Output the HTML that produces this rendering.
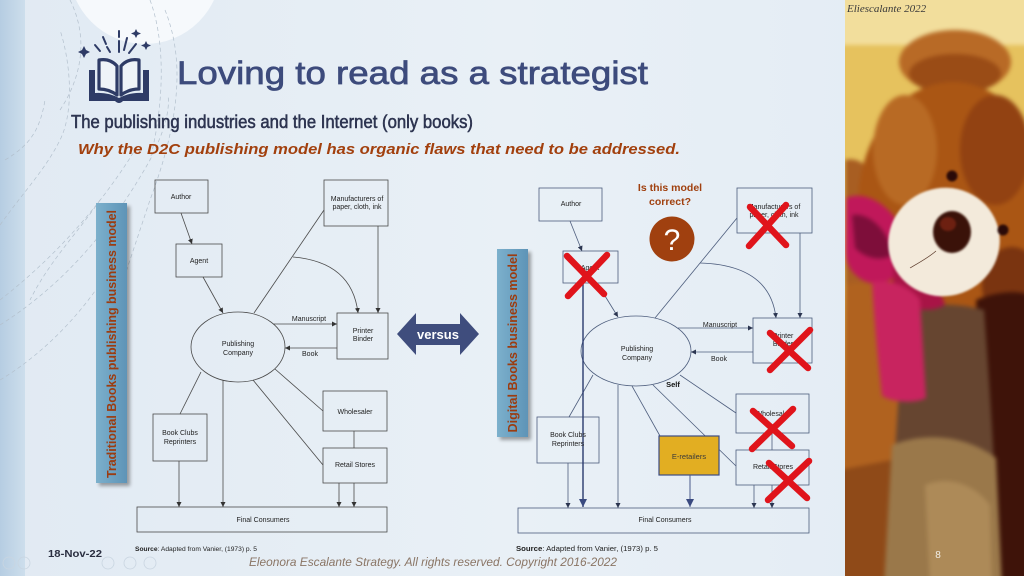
<!DOCTYPE html>
<html><head><meta charset="utf-8"><style>
html,body{margin:0;padding:0;width:1024px;height:576px;overflow:hidden;background:#e6eef5}
svg{display:block}
</style></head><body>
<svg width="1024" height="576" viewBox="0 0 1024 576" xmlns="http://www.w3.org/2000/svg" font-family="'Liberation Sans', Arial, sans-serif">
<defs>
 <linearGradient id="bg" x1="0" y1="0" x2="1" y2="0">
  <stop offset="0" stop-color="#e1eaf3"/><stop offset="0.5" stop-color="#e9f0f6"/><stop offset="1" stop-color="#e2ebf4"/>
 </linearGradient>
 <linearGradient id="strip" x1="0" y1="0" x2="1" y2="0">
  <stop offset="0" stop-color="#b6cde2"/><stop offset="1" stop-color="#cddeec"/>
 </linearGradient>
 <linearGradient id="lbl" x1="0" y1="0" x2="1" y2="0">
  <stop offset="0" stop-color="#7cb0cc"/><stop offset="1" stop-color="#5e94b7"/>
 </linearGradient>
 <marker id="ag" viewBox="0 0 10 10" refX="10" refY="5" markerWidth="5" markerHeight="5" markerUnits="userSpaceOnUse" orient="auto"><path d="M0,0 L10,5 L0,10 z" fill="#333"/></marker>
 <marker id="ab" viewBox="0 0 10 10" refX="10" refY="5" markerWidth="5" markerHeight="5" markerUnits="userSpaceOnUse" orient="auto"><path d="M0,0 L10,5 L0,10 z" fill="#2b3550"/></marker>
 <marker id="an" viewBox="0 0 10 10" refX="10" refY="5" markerWidth="8" markerHeight="8" markerUnits="userSpaceOnUse" orient="auto"><path d="M0,0 L10,5 L0,10 z" fill="#3a4a80"/></marker>
 <filter id="b3" x="-20%" y="-20%" width="140%" height="140%" color-interpolation-filters="sRGB"><feGaussianBlur stdDeviation="2"/></filter>
 <filter id="b1" x="-20%" y="-20%" width="140%" height="140%" color-interpolation-filters="sRGB"><feGaussianBlur stdDeviation="1"/></filter>
 <filter id="sh" x="-30%" y="-10%" width="160%" height="120%"><feGaussianBlur stdDeviation="1.8"/></filter>
 <clipPath id="cp"><rect x="845" y="0" width="179" height="576"/></clipPath>
</defs>

<!-- background -->
<rect x="0" y="0" width="1024" height="576" fill="url(#bg)"/>
<rect x="0" y="0" width="25" height="576" fill="url(#strip)"/>
<circle cx="145" cy="-32" r="76" fill="#f6f9fc"/>

<!-- dashed decorative curves -->
<g fill="none" stroke="#b3c0cd" stroke-width="0.7" stroke-dasharray="4 3">
 <path d="M0,300 C45,265 95,215 135,150"/>
 <path d="M0,325 C55,290 105,240 150,160 C165,130 170,110 168,95"/>
 <path d="M0,380 C50,350 95,300 120,250"/>
 <path d="M0,225 C25,190 45,170 60,140 C75,110 70,60 60,30"/>
 <path d="M5,160 C30,145 40,130 45,100"/>
 <path d="M150,0 C165,40 165,100 150,160"/>
 <path d="M165,10 C185,60 180,120 150,200 C140,230 130,260 120,290"/>
 <path d="M70,0 C90,40 80,80 60,110"/>
 <path d="M100,200 C80,230 50,260 30,300"/>
</g>

<!-- book icon -->
<g fill="#2e3b66" stroke="none">
 <path d="M89,70 L95,70 L95,93 Q108,92 119,98 Q130,92 143,93 L143,70 L149,70 L149,101 L123,101 Q119,105 115,101 L89,101 Z"/>
</g>
<g fill="#eef3f8" stroke="#2e3b66" stroke-width="3.2" stroke-linejoin="round">
 <path d="M99,60 Q110,58 117,66 L117,95 Q109,89 99,89 Z"/>
 <path d="M139,60 Q128,58 121,66 L121,95 Q129,89 139,89 Z"/>
</g>
<g stroke="#2e3b66" stroke-width="2" stroke-linecap="round">
 <line x1="119" y1="31" x2="119" y2="37"/><line x1="119" y1="41" x2="119" y2="52"/>
 <line x1="103" y1="37" x2="106" y2="44"/><line x1="107" y1="47" x2="110" y2="52"/>
 <line x1="95" y1="45" x2="100" y2="51"/>
 <line x1="127" y1="38" x2="124" y2="50"/>
 <line x1="136" y1="44" x2="129" y2="53"/>
</g>
<g fill="#2e3b66">
 <path d="M84,46 L86,50 L90,52 L86,54 L84,58 L82,54 L78,52 L82,50 Z"/>
 <path d="M136,29 L137.5,32 L141,33.5 L137.5,35 L136,38 L134.5,35 L131,33.5 L134.5,32 Z"/>
 <path d="M146,41 L147.5,44 L151,45.5 L147.5,47 L146,50 L144.5,47 L141,45.5 L144.5,44 Z"/>
</g>

<!-- titles -->
<text x="177" y="84" font-size="32" fill="#3d4b7c" stroke="#3d4b7c" stroke-width="0.7" textLength="471" lengthAdjust="spacingAndGlyphs">Loving to read as a strategist</text>
<text x="71" y="128" font-size="18.5" fill="#2d3450" stroke="#2d3450" stroke-width="0.55" textLength="402" lengthAdjust="spacingAndGlyphs">The publishing industries and the Internet (only books)</text>
<text x="78" y="154" font-size="15" font-weight="bold" font-style="italic" fill="#a2400e" textLength="602" lengthAdjust="spacingAndGlyphs">Why the D2C publishing model has organic flaws that need to be addressed.</text>

<!-- vertical labels -->
<rect x="99" y="206" width="31" height="280" fill="#000" opacity="0.35" filter="url(#sh)"/>
<rect x="96" y="203" width="31" height="280" fill="url(#lbl)"/>
<text transform="translate(116,344) rotate(-90)" text-anchor="middle" font-size="12.5" font-weight="bold" fill="#9c3c10" textLength="268" lengthAdjust="spacingAndGlyphs">Traditional Books publishing business model</text>

<rect x="500" y="252" width="31" height="188" fill="#000" opacity="0.35" filter="url(#sh)"/>
<rect x="497" y="249" width="31" height="188" fill="url(#lbl)"/>
<text transform="translate(517,343) rotate(-90)" text-anchor="middle" font-size="12.5" font-weight="bold" fill="#9c3c10" textLength="179" lengthAdjust="spacingAndGlyphs">Digital Books business model</text>

<!-- versus arrow -->
<path d="M397,334 L416,313 L416,324 L460,324 L460,313 L479,334 L460,355 L460,345 L416,345 L416,355 Z" fill="#3f4d7d"/>
<text x="438" y="339" text-anchor="middle" font-size="13" font-weight="bold" fill="#ffffff">versus</text>

<!-- LEFT DIAGRAM -->
<g stroke="#4a4a4a" stroke-width="0.8" fill="none">
 <rect x="155" y="180" width="53" height="33"/>
 <rect x="176" y="244" width="46" height="33"/>
 <rect x="324" y="180" width="64" height="46"/>
 <ellipse cx="238" cy="347" rx="47" ry="35"/>
 <rect x="337" y="313" width="51" height="46"/>
 <rect x="153" y="414" width="54" height="47"/>
 <rect x="323" y="391" width="64" height="40"/>
 <rect x="323" y="448" width="64" height="35"/>
 <rect x="137" y="507" width="250" height="25"/>
 <line x1="181" y1="213" x2="192" y2="244" marker-end="url(#ag)"/>
 <line x1="203" y1="277" x2="223" y2="313" marker-end="url(#ag)"/>
 <line x1="254" y1="313" x2="324" y2="210"/>
 <path d="M293,257 Q352,262 358,313" marker-end="url(#ag)"/>
 <line x1="378" y1="226" x2="378" y2="313" marker-end="url(#ag)"/>
 <line x1="273" y1="324" x2="337" y2="324" marker-end="url(#ag)"/>
 <line x1="337" y1="348" x2="285" y2="348" marker-end="url(#ag)"/>
 <line x1="201" y1="372" x2="180" y2="414"/>
 <line x1="223" y1="380" x2="223" y2="507" marker-end="url(#ag)"/>
 <line x1="253" y1="380" x2="323" y2="465"/>
 <line x1="275" y1="369" x2="323" y2="411"/>
 <line x1="354" y1="431" x2="354" y2="448"/>
 <line x1="179" y1="461" x2="179" y2="507" marker-end="url(#ag)"/>
 <line x1="339" y1="483" x2="339" y2="507" marker-end="url(#ag)"/>
 <line x1="354" y1="483" x2="354" y2="507" marker-end="url(#ag)"/>
</g>
<g font-size="7" fill="#222" text-anchor="middle">
 <text x="181" y="199">Author</text>
 <text x="199" y="263">Agent</text>
 <text x="357" y="201">Manufacturers of</text>
 <text x="357" y="209">paper, cloth, ink</text>
 <text x="238" y="346">Publishing</text>
 <text x="238" y="355">Company</text>
 <text x="363" y="333">Printer</text>
 <text x="363" y="341">Binder</text>
 <text x="309" y="321">Manuscript</text>
 <text x="310" y="356">Book</text>
 <text x="355" y="414">Wholesaler</text>
 <text x="180" y="435">Book Clubs</text>
 <text x="180" y="444">Reprinters</text>
 <text x="355" y="467">Retail Stores</text>
 <text x="263" y="522">Final Consumers</text>
</g>
<text x="135" y="551" font-size="6.5" fill="#222" textLength="122" lengthAdjust="spacingAndGlyphs"><tspan font-weight="bold">Source</tspan>: Adapted from Vanier, (1973) p. 5</text>

<!-- RIGHT DIAGRAM -->
<g stroke="#4d5d7d" stroke-width="0.8" fill="none">
 <rect x="539" y="188" width="63" height="33"/>
 <rect x="563" y="251" width="55" height="32"/>
 <rect x="737" y="188" width="75" height="45"/>
 <ellipse cx="636" cy="351" rx="55" ry="35"/>
 <rect x="753" y="318" width="59" height="45"/>
 <rect x="537" y="417" width="62" height="46"/>
 <rect x="736" y="394" width="73" height="39"/>
 <rect x="736" y="450" width="73" height="35"/>
 <rect x="518" y="508" width="291" height="25"/>
 <line x1="570" y1="221" x2="582" y2="251" marker-end="url(#ab)"/>
 <line x1="597" y1="283" x2="618" y2="317" marker-end="url(#ab)"/>
 <line x1="655" y1="318" x2="737" y2="218"/>
 <path d="M700,263 Q770,265 776,318" marker-end="url(#ab)"/>
 <line x1="800" y1="233" x2="800" y2="318" marker-end="url(#ab)"/>
 <line x1="678" y1="328" x2="753" y2="328" marker-end="url(#ab)"/>
 <line x1="753" y1="352" x2="691" y2="352" marker-end="url(#ab)"/>
 <line x1="593" y1="375" x2="569" y2="417"/>
 <line x1="618" y1="385" x2="618" y2="508" marker-end="url(#ab)"/>
 <line x1="632" y1="386" x2="660" y2="436"/>
 <line x1="653" y1="385" x2="736" y2="466"/>
 <line x1="680" y1="375" x2="736" y2="413"/>
 <line x1="772" y1="433" x2="772" y2="450"/>
 <line x1="568" y1="463" x2="568" y2="508" marker-end="url(#ab)"/>
 <line x1="754" y1="485" x2="754" y2="508" marker-end="url(#ab)"/>
 <line x1="772" y1="485" x2="772" y2="508" marker-end="url(#ab)"/>
</g>
<line x1="583" y1="283" x2="583" y2="507" stroke="#2a3a6e" stroke-width="1.4" marker-end="url(#an)"/>
<rect x="659" y="436" width="60" height="39" fill="#e2ae22" stroke="#3c4c84" stroke-width="1.2"/>
<line x1="690" y1="475" x2="690" y2="507" stroke="#4a5a8a" stroke-width="1" marker-end="url(#an)"/>
<g font-size="7" fill="#222" text-anchor="middle">
 <text x="571" y="206">Author</text>
 <text x="590" y="270">Agent</text>
 <text x="774" y="209">Manufacturers of</text>
 <text x="774" y="217">paper, cloth, ink</text>
 <text x="637" y="351">Publishing</text>
 <text x="637" y="360">Company</text>
 <text x="783" y="338">Printer</text>
 <text x="783" y="346">Binder</text>
 <text x="720" y="327">Manuscript</text>
 <text x="719" y="361">Book</text>
 <text x="773" y="416">Wholesaler</text>
 <text x="568" y="437">Book Clubs</text>
 <text x="568" y="446">Reprinters</text>
 <text x="773" y="469">Retail Stores</text>
 <text x="665" y="522">Final Consumers</text>
</g>
<text x="689" y="459" font-size="7.5" fill="#3a3a3a" text-anchor="middle">E-retailers</text>
<text x="673" y="387" font-size="7.5" font-weight="bold" fill="#111" text-anchor="middle">Self</text>
<text x="516" y="551" font-size="7.2" fill="#222" textLength="142" lengthAdjust="spacingAndGlyphs"><tspan font-weight="bold">Source</tspan>: Adapted from Vanier, (1973) p. 5</text>

<!-- question -->
<text x="670" y="191" font-size="10.5" font-weight="bold" fill="#a0400f" text-anchor="middle">Is this model</text>
<text x="670" y="205" font-size="10.5" font-weight="bold" fill="#a0400f" text-anchor="middle">correct?</text>
<circle cx="672" cy="239" r="22.5" fill="#a0400f"/>
<text x="672" y="250" font-size="30" fill="#ffffff" text-anchor="middle">?</text>

<!-- red X marks -->
<g stroke="#e0141b" stroke-width="6.5" stroke-linecap="round">
 <line x1="567" y1="256" x2="604" y2="294"/><line x1="607" y1="255" x2="568" y2="296"/>
 <line x1="750" y1="207" x2="786" y2="245"/><line x1="786" y1="205" x2="749" y2="246"/>
 <line x1="770" y1="333" x2="808" y2="368"/><line x1="810" y1="330" x2="770" y2="370"/>
 <line x1="753" y1="411" x2="792" y2="446"/><line x1="793" y1="409" x2="752" y2="449"/>
 <line x1="769" y1="463" x2="807" y2="498"/><line x1="809" y1="461" x2="768" y2="500"/>
</g>

<!-- footer -->
<g fill="none" stroke="#c9d5e1" stroke-width="0.8">
 <circle cx="9" cy="563" r="6"/><circle cx="24" cy="563" r="6"/>
 <circle cx="108" cy="563" r="6"/><circle cx="130" cy="563" r="6"/><circle cx="150" cy="563" r="6"/>
</g>
<text x="48" y="557" font-size="10.5" font-weight="bold" fill="#2a2e40" textLength="54" lengthAdjust="spacingAndGlyphs">18-Nov-22</text>
<text x="249" y="566" font-size="12" font-style="italic" fill="#8a7565" textLength="368" lengthAdjust="spacingAndGlyphs">Eleonora Escalante Strategy. All rights reserved. Copyright 2016-2022</text>

<!-- TEDDY PANEL -->
<g clip-path="url(#cp)">
 <rect x="845" y="0" width="179" height="576" fill="#e6c25e"/>
 <g filter="url(#b3)">
  <rect x="840" y="-10" width="190" height="55" fill="#f2de9c"/>
  <!-- left bear -->
  <path d="M845,160 C862,155 880,175 884,205 L890,300 L845,300 Z" fill="#a85e22"/>
  <path d="M845,285 C870,278 900,288 908,318 L905,585 L840,585 Z" fill="#b0621f"/>
  <path d="M840,470 L892,460 L897,585 L840,585Z" fill="#8f4a18"/>
  <!-- ear -->
  <ellipse cx="955" cy="62" rx="56" ry="32" fill="#b86a26"/>
  <ellipse cx="955" cy="74" rx="46" ry="20" fill="#9a4c16"/>
  <!-- head -->
  <ellipse cx="953" cy="205" rx="95" ry="123" fill="#aa5614"/>
  <ellipse cx="905" cy="150" rx="32" ry="55" fill="#b86a24"/>
  <ellipse cx="995" cy="150" rx="35" ry="55" fill="#924212"/>
  <ellipse cx="1012" cy="285" rx="30" ry="38" fill="#7a3410"/>
  <!-- dark right lower -->
  <path d="M976,300 C1000,290 1024,290 1035,298 L1035,585 L988,585 Z" fill="#3e1309"/>
  <!-- arm/paw -->
  <path d="M906,310 C935,302 962,304 984,310 C990,390 995,470 1000,585 L888,585 C893,480 898,390 906,310 Z" fill="#664530"/>
  <path d="M892,445 C930,430 970,438 996,458 L1002,585 L884,585Z" fill="#9a784a"/>
  <path d="M925,485 C950,475 975,485 990,505 L992,585 L930,585Z" fill="#ad8a58"/>
  <!-- bow -->
  <path d="M846,198 C870,188 902,213 910,250 C907,272 890,286 870,283 C855,279 845,266 845,250 Z" fill="#c0185a"/>
  <path d="M852,215 C872,212 890,235 893,255 C880,262 865,258 855,248 Z" fill="#7e0e3a"/>
  <path d="M893,262 C915,262 940,285 945,305 C930,314 905,310 893,295 Z" fill="#a81446"/>
  <path d="M872,282 C890,278 912,288 920,300 L926,398 C915,404 892,402 882,396 C878,360 874,320 872,282 Z" fill="#c8245f"/>
 </g>
 <g filter="url(#b1)">
  <ellipse cx="944" cy="242" rx="56" ry="54" transform="rotate(-20 944 242)" fill="#f3eadb"/>
  <ellipse cx="952" cy="232" rx="19" ry="21" fill="#3a1209"/>
  <ellipse cx="948" cy="224" rx="8" ry="7" fill="#7a2414" opacity="0.8"/>
  <circle cx="952" cy="176" r="5.5" fill="#2a0a08"/>
  <circle cx="1003" cy="230" r="5.5" fill="#2a0a08"/>
 </g>
 <path d="M936,251 C928,258 920,262 910,268" stroke="#5a3a2a" stroke-width="0.7" fill="none"/>
 <text x="847" y="12" font-family="'Liberation Serif', serif" font-style="italic" font-size="11" fill="#3a3a3a">Eliescalante 2022</text>
 <text x="938" y="558" font-size="10" fill="#f2eee6" text-anchor="middle">8</text>
</g>
</svg>
</body></html>
